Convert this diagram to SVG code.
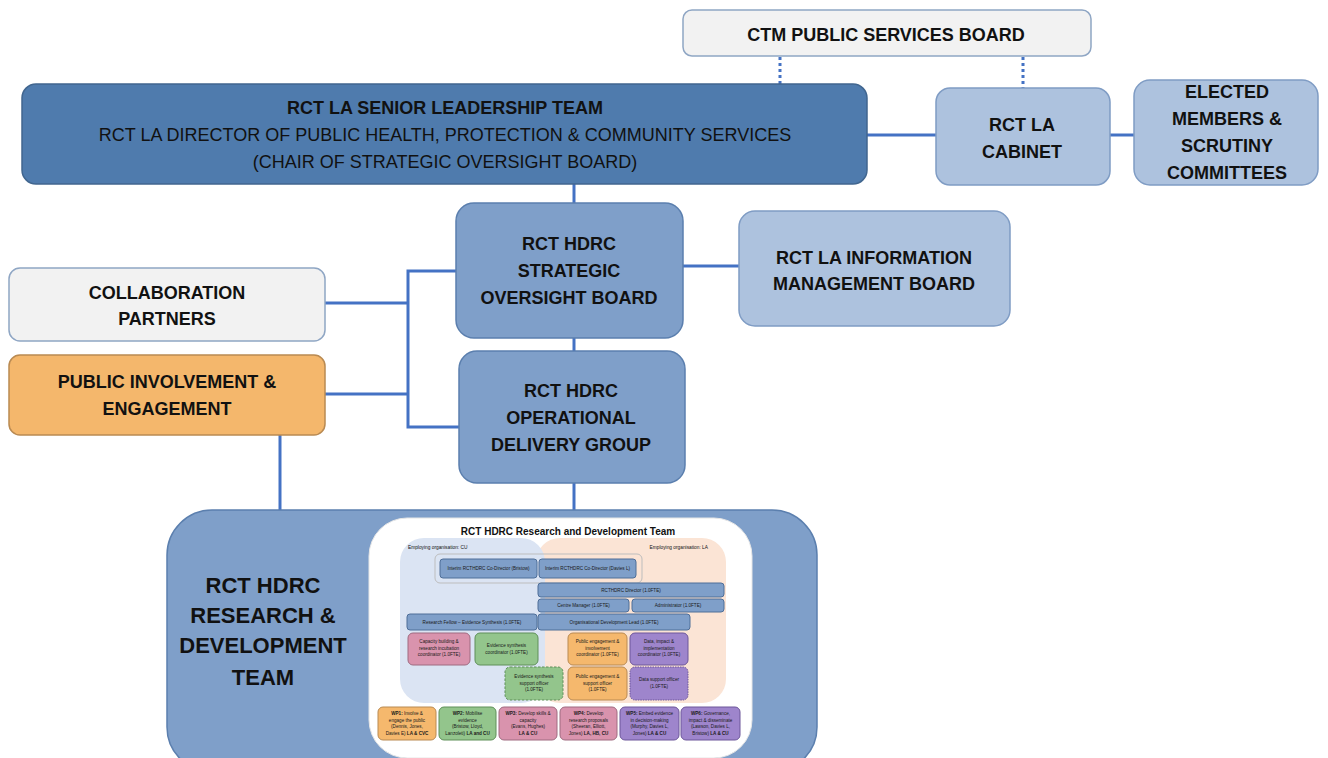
<svg xmlns="http://www.w3.org/2000/svg" width="1328" height="758" viewBox="0 0 1328 758">
<defs>
<style>
text{font-family:"Liberation Sans",Arial,sans-serif;fill:#111}
.b{font-weight:bold;font-size:18px;text-anchor:middle}
.r{font-size:18px;text-anchor:middle}
.big{font-weight:bold;font-size:22px;text-anchor:middle}
.dark{fill:#4f7bad;stroke:#41668f;stroke-width:1.5}
.mid{fill:#7f9fc9;stroke:#5b7fae;stroke-width:1.5}
.light{fill:#adc2de;stroke:#7f9cc4;stroke-width:1.5}
.grey{fill:#f2f2f2;stroke:#8fa6c4;stroke-width:1.5}
.orange{fill:#f4b76c;stroke:#b98a52;stroke-width:1.5}
.conn{fill:none;stroke:#4472c4;stroke-width:3}
.dot{stroke-dasharray:3 3}
.t{font-size:4.6px;text-anchor:middle;fill:#1a1a1a}
.tb{font-weight:bold}
.ib{fill:#7f9fc9;stroke:#4e6e98;stroke-width:1}
.pk{fill:#d993ad;stroke:#9f6a80;stroke-width:1}
.gr{fill:#93c58c;stroke:#5e8f58;stroke-width:1}
.or{fill:#f5b86d;stroke:#b98a52;stroke-width:1}
.pu{fill:#9e85cc;stroke:#6d569a;stroke-width:1}
</style>
</defs>
<rect width="1328" height="758" fill="#ffffff"/>

<g id="connectors">
<line class="conn dot" x1="780" y1="57" x2="780" y2="84"/>
<line class="conn dot" x1="1023" y1="57" x2="1023" y2="88"/>
<line class="conn" x1="867" y1="135" x2="936" y2="135"/>
<line class="conn" x1="1110" y1="135" x2="1134" y2="135"/>
<line class="conn" x1="574" y1="184" x2="574" y2="203"/>
<line class="conn" x1="683" y1="266" x2="739" y2="266"/>
<line class="conn" x1="574" y1="338" x2="574" y2="351"/>
<path class="conn" d="M456,271 H408 V427 H459"/>
<line class="conn" x1="325" y1="303" x2="408" y2="303"/>
<line class="conn" x1="325" y1="394" x2="408" y2="394"/>
<line class="conn" x1="280" y1="435" x2="280" y2="511"/>
<line class="conn" x1="574" y1="483" x2="574" y2="511"/>
</g>

<g id="ctm-psb">
<rect class="grey" x="683" y="10" width="408" height="46" rx="9"/>
<text class="b" x="886" y="41">CTM PUBLIC SERVICES BOARD</text>
</g>

<g id="senior-leadership">
<rect class="dark" x="22" y="84" width="845" height="100" rx="14"/>
<text class="b" x="445" y="114">RCT LA SENIOR LEADERSHIP TEAM</text>
<text class="r" x="445" y="141">RCT LA DIRECTOR OF PUBLIC HEALTH, PROTECTION &amp; COMMUNITY SERVICES</text>
<text class="r" x="445" y="168">(CHAIR OF STRATEGIC OVERSIGHT BOARD)</text>
</g>

<g id="cabinet">
<rect class="light" x="936" y="88" width="174" height="97" rx="14"/>
<text class="b" x="1022" y="131">RCT LA</text>
<text class="b" x="1022" y="158">CABINET</text>
</g>

<g id="elected">
<rect class="light" x="1134" y="80" width="184" height="105" rx="16"/>
<text class="b" x="1227" y="98">ELECTED</text>
<text class="b" x="1227" y="125">MEMBERS &amp;</text>
<text class="b" x="1227" y="152">SCRUTINY</text>
<text class="b" x="1227" y="179">COMMITTEES</text>
</g>

<g id="strategic-oversight">
<rect class="mid" x="456" y="203" width="227" height="135" rx="18"/>
<text class="b" x="569" y="250">RCT HDRC</text>
<text class="b" x="569" y="277">STRATEGIC</text>
<text class="b" x="569" y="304">OVERSIGHT BOARD</text>
</g>

<g id="info-management">
<rect class="light" x="739" y="211" width="271" height="115" rx="16"/>
<text class="b" x="874" y="264">RCT LA INFORMATION</text>
<text class="b" x="874" y="290">MANAGEMENT  BOARD</text>
</g>

<g id="collaboration">
<rect class="grey" x="9" y="268" width="316" height="73" rx="11"/>
<text class="b" x="167" y="299">COLLABORATION</text>
<text class="b" x="167" y="325">PARTNERS</text>
</g>

<g id="public-involvement">
<rect class="orange" x="9" y="355" width="316" height="80" rx="11"/>
<text class="b" x="167" y="388">PUBLIC INVOLVEMENT &amp;</text>
<text class="b" x="167" y="415">ENGAGEMENT</text>
</g>

<g id="operational-delivery">
<rect class="mid" x="459" y="351" width="226" height="132" rx="18"/>
<text class="b" x="571" y="397">RCT HDRC</text>
<text class="b" x="571" y="424">OPERATIONAL</text>
<text class="b" x="571" y="451">DELIVERY GROUP</text>
</g>

<g id="research-development">
<rect class="mid" x="167" y="510" width="650" height="262" rx="45"/>
<text class="big" x="263" y="593">RCT HDRC</text>
<text class="big" x="263" y="623">RESEARCH &amp;</text>
<text class="big" x="263" y="653">DEVELOPMENT</text>
<text class="big" x="263" y="685">TEAM</text>

<g id="team-chart">
<rect x="369" y="518" width="383" height="240" rx="38" fill="#ffffff" stroke="#e6e6e6" stroke-width="1"/>
<text x="568" y="535" style="font-weight:bold;font-size:10px;text-anchor:middle">RCT HDRC Research and Development Team</text>
<rect x="536" y="538" width="190" height="165" rx="24" fill="#fbe4d5"/>
<rect x="400" y="538" width="145" height="165" rx="24" fill="#dbe4f3"/>
<text x="408" y="549" style="font-size:4.8px">Employing organisation: CU</text>
<text x="708" y="549" style="font-size:4.8px;text-anchor:end">Employing organisation: LA</text>

<rect x="435" y="554" width="207" height="29" rx="5" fill="none" stroke="#bdbdbd" stroke-width="1"/>
<rect class="ib" x="440" y="559" width="97" height="19" rx="3"/>
<text class="t" x="488.5" y="570">Interim RCTHDRC Co-Director (Bristow)</text>
<rect class="ib" x="539" y="559" width="97" height="19" rx="3"/>
<text class="t" x="587.5" y="570">Interim RCTHDRC Co-Director (Davies L)</text>

<rect class="ib" x="538" y="583" width="186" height="14" rx="3"/>
<text class="t" x="631" y="591.5">RCTHDRC Director (1.0FTE)</text>
<rect class="ib" x="538" y="599" width="91" height="13" rx="3"/>
<text class="t" x="583.5" y="607">Centre Manager (1.0FTE)</text>
<rect class="ib" x="632" y="599" width="92" height="13" rx="3"/>
<text class="t" x="678" y="607">Administrator (1.0FTE)</text>
<rect class="ib" x="407" y="614" width="130" height="16" rx="3"/>
<text class="t" x="472" y="623.5">Research Fellow – Evidence Synthesis (1.0FTE)</text>
<rect class="ib" x="538" y="614" width="152" height="16" rx="3"/>
<text class="t" x="614" y="623.5">Organisational Development Lead (1.0FTE)</text>

<rect class="pk" x="408" y="633" width="62" height="32" rx="5"/>
<text class="t" x="439" y="643">Capacity building &amp;</text>
<text class="t" x="439" y="649.5">research incubation</text>
<text class="t" x="439" y="656">coordinator (1.0FTE)</text>
<rect class="gr" x="475" y="633" width="63" height="32" rx="5"/>
<text class="t" x="506.5" y="647">Evidence synthesis</text>
<text class="t" x="506.5" y="653.5">coordinator (1.0FTE)</text>
<rect class="or" x="568" y="633" width="59" height="32" rx="5"/>
<text class="t" x="597.5" y="643">Public engagement &amp;</text>
<text class="t" x="597.5" y="649.5">involvement</text>
<text class="t" x="597.5" y="656">coordinator (1.0FTE)</text>
<rect class="pu" x="630" y="633" width="58" height="32" rx="5"/>
<text class="t" x="659" y="643">Data, impact &amp;</text>
<text class="t" x="659" y="649.5">implementation</text>
<text class="t" x="659" y="656">coordinator (1.0FTE)</text>

<rect class="gr" x="505" y="667" width="58" height="33" rx="5" stroke-dasharray="2.5 1.5" stroke-width="1.4"/>
<text class="t" x="534" y="678">Evidence synthesis</text>
<text class="t" x="534" y="684.5">support officer</text>
<text class="t" x="534" y="691">(1.0FTE)</text>
<rect class="or" x="568" y="667" width="59" height="33" rx="5"/>
<text class="t" x="597.5" y="678">Public engagement &amp;</text>
<text class="t" x="597.5" y="684.5">support officer</text>
<text class="t" x="597.5" y="691">(1.0FTE)</text>
<rect class="pu" x="630" y="667" width="58" height="33" rx="5" stroke-dasharray="1.5 1"/>
<text class="t" x="659" y="681">Data support officer</text>
<text class="t" x="659" y="687.5">(1.0FTE)</text>

<rect class="or" x="378" y="707" width="58" height="33" rx="5"/>
<text class="t" x="407" y="715"><tspan class="tb">WP1:</tspan> Involve &amp;</text>
<text class="t" x="407" y="721.5">engage the public</text>
<text class="t" x="407" y="728">(Dennis, Jones,</text>
<text class="t" x="407" y="734.5">Davies E)  <tspan class="tb">LA &amp; CVC</tspan></text>
<rect class="gr" x="439" y="707" width="57" height="33" rx="5"/>
<text class="t" x="467.5" y="715"><tspan class="tb">WP2:</tspan> Mobilise</text>
<text class="t" x="467.5" y="721.5">evidence</text>
<text class="t" x="467.5" y="728">(Bristow, Lloyd,</text>
<text class="t" x="467.5" y="734.5">Lanzoleti) <tspan class="tb">LA and CU</tspan></text>
<rect class="pk" x="499" y="707" width="58" height="33" rx="5"/>
<text class="t" x="528" y="715"><tspan class="tb">WP3:</tspan> Develop skills &amp;</text>
<text class="t" x="528" y="721.5">capacity</text>
<text class="t" x="528" y="728">(Evans, Hughes)</text>
<text class="t tb" x="528" y="734.5">LA &amp; CU</text>
<rect class="pk" x="560" y="707" width="57" height="33" rx="5"/>
<text class="t" x="588.5" y="715"><tspan class="tb">WP4:</tspan> Develop</text>
<text class="t" x="588.5" y="721.5">research proposals</text>
<text class="t" x="588.5" y="728">(Sheeran, Elliott,</text>
<text class="t" x="588.5" y="734.5">Jones) <tspan class="tb">LA, HB, CU</tspan></text>
<rect class="pu" x="620" y="707" width="59" height="33" rx="5"/>
<text class="t" x="649.5" y="715"><tspan class="tb">WP5:</tspan> Embed evidence</text>
<text class="t" x="649.5" y="721.5">in decision-making</text>
<text class="t" x="649.5" y="728">(Murphy, Davies L,</text>
<text class="t" x="649.5" y="734.5">Jones) <tspan class="tb">LA &amp; CU</tspan></text>
<rect class="pu" x="681" y="707" width="59" height="33" rx="5"/>
<text class="t" x="710.5" y="715"><tspan class="tb">WP6:</tspan> Governance,</text>
<text class="t" x="710.5" y="721.5">impact &amp; disseminate</text>
<text class="t" x="710.5" y="728">(Lawson, Davies L,</text>
<text class="t" x="710.5" y="734.5">Bristow) <tspan class="tb">LA &amp; CU</tspan></text>
</g>
</g>
</svg>
